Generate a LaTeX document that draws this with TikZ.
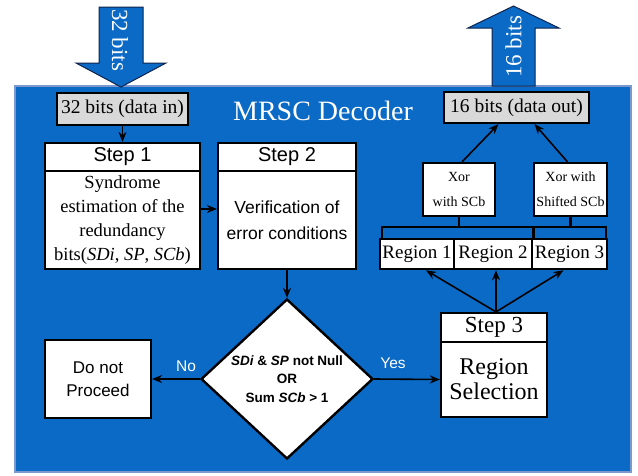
\documentclass[tikz,border=0pt]{standalone}
\usepackage{fontspec}
\setmainfont{Liberation Serif}
\setsansfont{Liberation Sans}
\usetikzlibrary{arrows.meta,shapes.geometric}

\definecolor{panelblue}{RGB}{10,106,198}
\definecolor{panelrim}{RGB}{125,152,205}
\definecolor{iogray}{RGB}{217,217,217}
\definecolor{arrowrim}{RGB}{15,35,75}

\tikzset{
    blk/.style = {draw = black, line width = 2.2pt, fill = white, inner sep = 0pt, align = center},
    iobox/.style = {blk, fill = iogray, font = \fontsize{19.5}{22}\selectfont},
    hdr/.style = {blk, font = \sffamily\fontsize{20}{22}\selectfont},
    xorbox/.style = {blk, font = \fontsize{14}{25}\selectfont},
    regbox/.style = {blk, line width = 2.6pt, font = \fontsize{19}{22}\selectfont},
    cond/.style = {diamond, draw = black, line width = 2.4pt, fill = white, inner sep = 0pt, shape aspect = 1.075},
    condtext/.style = {align = center, font = \sffamily\bfseries\fontsize{13.5}{18.5}\selectfont},
    arr/.style = {-{Stealth[length = 10pt, width = 8pt]}, line width = 1.6pt},
    bus/.style = {line width = 2.6pt},
    bigarrow/.style = {draw = arrowrim, line width = 1pt, fill = panelblue},
    bigtext/.style = {text = white, font = \fontsize{23}{25}\selectfont},
    lbl/.style = {text = white, font = \sffamily\fontsize{15.5}{18}\selectfont}
}

\begin{document}
\begin{tikzpicture}[x = 1pt, y = -1pt]
        \useasboundingbox (0, 0) rectangle (638, 475);

        % decoder panel
        \draw [panelrim, line width = 2.5pt, fill = panelblue] (15, 86) rectangle (631, 472);
        \node [text = white, font = \fontsize{28}{30}\selectfont] (title) at (323, 111) {MRSC Decoder};

        % big in / out arrows
        \draw [bigarrow] (99, 7) -- (143, 7) -- (143, 63) -- (166, 63) -- (121, 87) -- (76, 63) -- (99, 63) -- cycle;
        \node [bigtext, rotate = -90] (inlbl) at (120, 40) {32 bits};
        \draw [bigarrow] (492, 86) -- (535, 86) -- (535, 28) -- (559, 28) -- (513.5, 6) -- (468, 28) -- (492, 28) -- cycle;
        \node [bigtext, rotate = 90] (outlbl) at (513.5, 47) {16 bits};

        \node [iobox, minimum width = 131pt, minimum height = 32pt] (din) at (122.5, 109) {32 bits (data in)};
        \node [iobox, minimum width = 145pt, minimum height = 31pt] (dout) at (516.5, 107.5) {16 bits (data out)};

        % step 1 and step 2
        \node [hdr, minimum width = 155pt, minimum height = 28pt] (s1h) at (122.5, 157) {Step 1};
        \node [blk, minimum width = 155pt, minimum height = 98pt, font = \fontsize{18.5}{24}\selectfont] (s1) at (122.5, 220)
            {Syndrome\\estimation of the\\redundancy\\bits(\textit{SDi}, \textit{SP}, \textit{SCb})};
        \node [hdr, minimum width = 138pt, minimum height = 28pt] (s2h) at (287, 157) {Step 2};
        \node [blk, minimum width = 138pt, minimum height = 98pt, font = \sffamily\fontsize{17.5}{26}\selectfont] (s2) at (287, 220)
            {Verification of\\error conditions};

        % decision
        \node [cond, minimum width = 172pt, minimum height = 160pt] (dec) at (287, 379) {};
        \node [condtext] (dect) at (dec.center) {\textit{SDi} \& \textit{SP} not Null\\OR\\Sum \textit{SCb} > 1};

        \node [blk, minimum width = 106pt, minimum height = 78pt, font = \sffamily\fontsize{17}{23}\selectfont] (stop) at (98, 379)
            {Do not\\Proceed};

        % step 3
        \node [blk, minimum width = 106pt, minimum height = 29pt, font = \fontsize{23}{25}\selectfont] (s3h) at (494, 327.5) {Step 3};
        \node [blk, minimum width = 106pt, minimum height = 75pt, font = \fontsize{24}{25}\selectfont] (s3) at (494, 379.5)
            {Region\\Selection};

        % regions
        \node [regbox, minimum width = 74pt, minimum height = 30pt] (r1) at (417, 254) {Region 1};
        \node [regbox, minimum width = 78pt, minimum height = 30pt] (r2) at (493, 254) {Region 2};
        \node [regbox, minimum width = 75pt, minimum height = 30pt] (r3) at (569.5, 254) {Region 3};

        % xor blocks
        \node [xorbox, minimum width = 72pt, minimum height = 53pt] (x1) at (459, 189.5) {Xor\\with SCb};
        \node [xorbox, minimum width = 73pt, minimum height = 53pt] (x2) at (570.5, 189.5) {Xor with\\Shifted SCb};

        \coordinate (busl) at (382, 227);
        \coordinate (busr) at (606, 227);
        \draw [bus] (busl |- r1.north) -- (busl) -- (busr) -- (busr |- r3.north);
        \draw [bus] (r2.north east) -- (r2.north east |- busl);
        \draw [bus] (x1.south) -- (x1.south |- busl);
        \draw [bus] (x2.south) -- (x2.south |- busl);

        % connectors
        \draw [arr] (din.south) -- (s1h.north);
        \draw [arr] ([yshift = 11pt]s1.east) -- ([yshift = 11pt]s2.west);
        \draw [arr] (s2.south) -- (dec.north);
        \draw [arr] (dec.west) -- (stop.east);
        \draw [arr] (dec.east) -- (s3.west);
        \node [lbl] (no) at (186, 366) {No};
        \node [lbl] (yes) at (393, 363) {Yes};

        \draw [arr] ([xshift = 2pt]s3h.north) -- ([xshift = 9pt]r1.south);
        \draw [arr] ([xshift = 2pt]s3h.north) -- ([xshift = 3pt]r2.south);
        \draw [arr] ([xshift = 2pt]s3h.north) -- ([xshift = -6pt]r3.south);

        \draw [arr] ([xshift = 3pt]x1.north) -- ([xshift = -18pt]dout.south);
        \draw [arr] ([xshift = -3pt]x2.north) -- ([xshift = 18pt]dout.south);
\end{tikzpicture}
\end{document}
